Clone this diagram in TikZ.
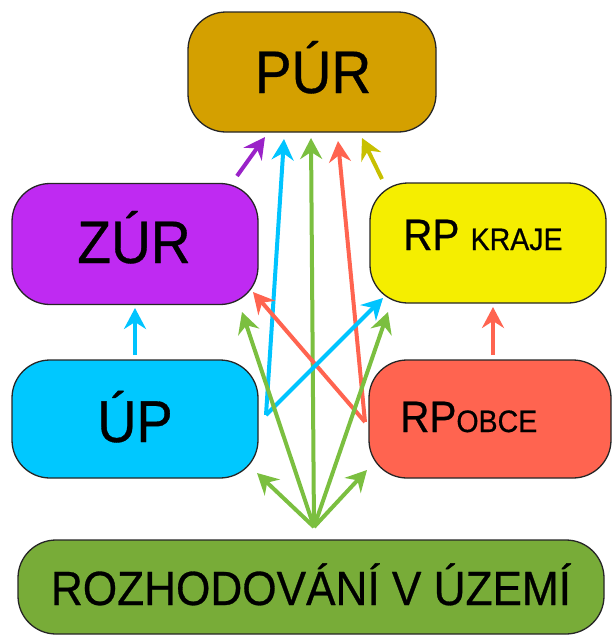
\documentclass[tikz,border=0pt]{standalone}
\usepackage{fontspec}
\setmainfont{Liberation Sans}
\newfontfamily\hv[FakeStretch=0.92,FakeBold=0.6]{Liberation Sans}
\usetikzlibrary{arrows.meta}

\definecolor{cPUR}{HTML}{D4A000}
\definecolor{cZUR}{HTML}{BF2AF2}
\definecolor{cKRA}{HTML}{F5EE00}
\definecolor{cUP}{HTML}{00C8FF}
\definecolor{cOBC}{HTML}{FF6450}
\definecolor{cROZ}{HTML}{78AC38}
\definecolor{aPur}{HTML}{9A22C8}
\definecolor{aCyan}{HTML}{00C4FF}
\definecolor{aGreen}{HTML}{7BBF40}
\definecolor{aRed}{HTML}{FF6450}
\definecolor{aOlive}{HTML}{C8C000}

\begin{document}
\begin{tikzpicture}[x=1pt,y=-1pt,
  box/.style={draw=black!85, line width=1.3pt, rounded corners=38pt, inner sep=0pt},
  lbl/.style={inner sep=0pt, font=\hv},
  conn/.style={line width=4pt, -{Stealth[length=21pt,width=22pt,inset=7pt]}}]
\useasboundingbox (0,0) rectangle (612,638);

% boxes
\node[box, fill=cPUR, minimum width=248pt, minimum height=120pt] (pur) at (312,72) {};
\node[box, fill=cZUR, minimum width=246pt, minimum height=121pt] (zur) at (135,244) {};
\node[box, fill=cKRA, minimum width=236pt, minimum height=120pt] (kraje) at (488,243) {};
\node[box, fill=cUP, minimum width=246pt, minimum height=118pt] (up) at (135,419) {};
\node[box, fill=cOBC, minimum width=242pt, minimum height=118pt] (obce) at (490,419) {};
\node[box, fill=cROZ, minimum width=586pt, minimum height=94pt] (roz) at (311,587) {};

% labels
\node[lbl, anchor=base] (tpur) at (313,93) {\fontsize{60}{60}\selectfont PÚR};
\node[lbl, anchor=base] (tzur) at (134,263) {\fontsize{60}{60}\selectfont ZÚR};
\node[lbl, anchor=base] (tup) at (135,442) {\fontsize{59}{59}\selectfont ÚP};
\node[lbl, anchor=base west] (tkraje) at (403,250) {\fontsize{44}{44}\selectfont RP {\fontsize{31}{31}\selectfont KRAJE}};
\node[lbl, anchor=base west] (tobce) at (400,432) {\fontsize{44}{44}\selectfont RP{\fontsize{31}{31}\selectfont OBCE}};
\node[lbl, anchor=base] (troz) at (311,605) {\fontsize{48}{48}\selectfont ROZHODOVÁNÍ V ÚZEMÍ};

% connector end points
\coordinate (pA) at (265,137);
\coordinate (pB) at (284,139);
\coordinate (pC) at (311,138);
\coordinate (pD) at (338,141);
\coordinate (pE) at (362,138);
\coordinate (zS) at (237,176);
\coordinate (kS) at (382,179);
\coordinate (upS) at (266,415);
\coordinate (obS) at (365,422);
\coordinate (rS) at (314,527);
\coordinate (zT) at (253,292);
\coordinate (zT2) at (242,312);
\coordinate (kT) at (383,298);
\coordinate (kT2) at (388,312);
\coordinate (upT) at (257,473);
\coordinate (obT) at (367,470);
\coordinate (upN) at (135,355);
\coordinate (zurB) at (135,308);
\coordinate (obN) at (493,355);
\coordinate (kraB) at (493,307);

% arrows into PUR
\draw[conn, aPur] (zS) -- (pA);
\draw[conn, aOlive] (kS) -- (pE);
\draw[conn, aCyan] (upS) -- (pB);
\draw[conn, aRed] (obS) -- (pD);
\draw[conn, aGreen] (rS) -- (pC);

% cross arrows
\draw[conn, aRed] (obS) -- (zT);
\draw[conn, aCyan] (upS) -- (kT);
\draw[conn, aGreen] (rS) -- (zT2);
\draw[conn, aGreen] (rS) -- (kT2);
\draw[conn, aGreen] (rS) -- (upT);
\draw[conn, aGreen] (rS) -- (obT);

% short vertical arrows
\draw[conn, aCyan] (upN) -- (zurB);
\draw[conn, aRed] (obN) -- (kraB);
\end{tikzpicture}
\end{document}
